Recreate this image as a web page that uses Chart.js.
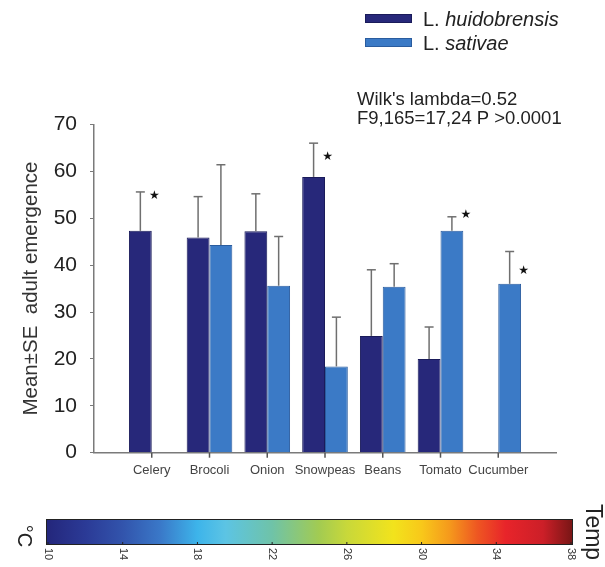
<!DOCTYPE html>
<html>
<head>
<meta charset="utf-8">
<script src="https://cdn.jsdelivr.net/npm/chart.js@4.4.1/dist/chart.umd.min.js"></script>
<style>
  html, body { margin: 0; padding: 0; background: #fff; }
  #wrap { width: 605px; height: 567px; position: relative; }
</style>
</head>
<body>
<div id="wrap"><canvas id="chart" width="605" height="567"></canvas></div>
<script>
// ── Data ──────────────────────────────────────────────────────────────────
const categories       = ['Celery', 'Brocoli', 'Onion', 'Snowpeas', 'Beans', 'Tomato', 'Cucumber'];
const huidobrensisMean = [47.3, 45.9, 47.2, 58.8, 24.9, 20.0, null];
const huidobrensisSE   = [8.3, 8.7, 8.0, 7.2, 14.1, 6.8, null];
const sativaeMean      = [null, 44.3, 35.6, 18.4, 35.4, 47.3, 36.0];
const sativaeSE        = [null, 17.1, 10.5, 10.5, 4.9, 3.0, 6.9];
// level (y value) of the significance stars
const huidobrensisStar = [54.8, null, null, 63.1, null, null, null];
const sativaeStar      = [null, null, null, null, null, 50.7, 38.8];
const yTicks           = [0, 10, 20, 30, 40, 50, 60, 70];
const tempTicks        = [10, 14, 18, 22, 26, 30, 34, 38];
const statLines        = ["Wilk's lambda=0.52", 'F9,165=17,24 P >0.0001'];

const FONT = "'Liberation Sans', Arial, sans-serif";
const DARK  = '#27287a';
const LIGHT = '#3b7ac6';

// blank slot at each end so the axis runs half a slot past the outer groups
const labels = ['', ...categories, ''];
const pad = arr => [null, ...arr, null];

// ── Overlay: error bars, stars, x ticks, legend, stats, colour bar ──────────
function drawLine(ctx, x1, y1, x2, y2) {
  ctx.beginPath(); ctx.moveTo(x1, y1); ctx.lineTo(x2, y2); ctx.stroke();
}

const overlay = {
  id: 'overlay',
  afterDatasetsDraw(chart) {
    const ctx = chart.ctx, ys = chart.scales.y, xs = chart.scales.x;
    const axisY = ys.getPixelForValue(0);
    ctx.save();

    // small tick marks under the x axis, one per category
    ctx.strokeStyle = '#555';
    ctx.lineWidth = 1.5;
    categories.forEach((c, i) => {
      const x = xs.getPixelForValue(i + 1);
      drawLine(ctx, x, axisY, x, axisY + 5);
    });

    chart.data.datasets.forEach((ds, di) => {
      const meta = chart.getDatasetMeta(di);
      meta.data.forEach((bar, i) => {
        const v = ds.data[i];
        if (v == null) return;
        const top = ys.getPixelForValue(v + ds.se[i]);
        ctx.strokeStyle = '#6f6f6f';
        ctx.lineWidth = 1.5;
        drawLine(ctx, bar.x, bar.y, bar.x, top);
        drawLine(ctx, bar.x - 4.5, top, bar.x + 4.5, top);
        if (ds.star[i] != null) {
          ctx.fillStyle = '#111';
          ctx.font = "12px 'DejaVu Sans'";
          ctx.textAlign = 'center';
          ctx.textBaseline = 'middle';
          ctx.fillText('★', bar.x + 14, ys.getPixelForValue(ds.star[i]));
        }
      });
    });
    ctx.restore();
  },
  afterDraw(chart) {
    const ctx = chart.ctx;
    ctx.save();

    // legend
    chart.data.datasets.forEach((ds, i) => {
      const y = 18.5 + i * 24;
      ctx.fillStyle = ds.backgroundColor;
      ctx.fillRect(365, y - 4.5, 47, 9);
      ctx.strokeStyle = ds.borderColor;
      ctx.lineWidth = 1;
      ctx.strokeRect(365.5, y - 4, 46, 8);
      ctx.fillStyle = '#222';
      ctx.textBaseline = 'middle';
      ctx.textAlign = 'left';
      ctx.font = `20px ${FONT}`;
      ctx.fillText('L. ', 423, y + 1.5);
      const w = ctx.measureText('L. ').width;
      ctx.font = `italic 20px ${FONT}`;
      ctx.fillText(ds.species, 423 + w, y + 1.5);
    });

    // stats text
    ctx.font = `18.5px ${FONT}`;
    ctx.fillStyle = '#222';
    statLines.forEach((t, i) => ctx.fillText(t, 357, 100 + i * 19));

    // colour bar
    const cbL = 46, cbR = 573, cbT = 519, cbB = 545;
    const tx = t => 48 + (t - 10) * (571 - 48) / 28;
    const grad = ctx.createLinearGradient(cbL, 0, cbR, 0);
    [[10, '#24277c'], [12, '#2b3a96'], [14, '#3254ac'], [16, '#3a78c8'], [18, '#3db4ea'],
     [19.5, '#5cc4e4'], [22, '#6fc3a8'], [24.5, '#a2cb52'], [26, '#c8d83a'], [28.5, '#f2e31c'],
     [30, '#f8c81a'], [31.5, '#f5991c'], [33, '#ee5622'], [34.5, '#e8242a'], [36.5, '#cc1f28'],
     [38, '#7c1616']].forEach(([t, c]) => {
      grad.addColorStop(Math.min(1, Math.max(0, (tx(t) - cbL) / (cbR - cbL))), c);
    });
    ctx.fillStyle = grad;
    ctx.fillRect(cbL, cbT, cbR - cbL, cbB - cbT);
    ctx.strokeStyle = '#222';
    ctx.lineWidth = 1;
    ctx.strokeRect(cbL + 0.5, cbT + 0.5, cbR - cbL - 1, cbB - cbT - 1);

    ctx.font = `11px ${FONT}`;
    ctx.fillStyle = '#333';
    tempTicks.forEach(t => {
      const x = tx(t);
      ctx.strokeStyle = '#222';
      drawLine(ctx, x, cbB - 3, x, cbB);
      ctx.save();
      ctx.translate(x, 548);
      ctx.rotate(Math.PI / 2);
      ctx.textAlign = 'left';
      ctx.textBaseline = 'middle';
      ctx.fillText(String(t), 0, 0);
      ctx.restore();
    });

    // rotated unit labels
    [['°C', 24, 536, 20], ['Temp', 592, 532, 23]].forEach(([t, x, y, size]) => {
      ctx.save();
      ctx.translate(x, y);
      ctx.rotate(Math.PI / 2);
      ctx.font = `${size}px ${FONT}`;
      ctx.fillStyle = '#222';
      ctx.textAlign = 'center';
      ctx.textBaseline = 'middle';
      ctx.fillText(t, 0, 0);
      ctx.restore();
    });

    ctx.restore();
  }
};

// ── Chart ─────────────────────────────────────────────────────────────────
new Chart(document.getElementById('chart'), {
  type: 'bar',
  data: {
    labels,
    datasets: [
      {
        label: 'L. huidobrensis', species: 'huidobrensis',
        data: pad(huidobrensisMean), se: pad(huidobrensisSE), star: pad(huidobrensisStar),
        backgroundColor: DARK, borderColor: '#1a1b5a', borderWidth: 1,
      },
      {
        label: 'L. sativae', species: 'sativae',
        data: pad(sativaeMean), se: pad(sativaeSE), star: pad(sativaeStar),
        backgroundColor: LIGHT, borderColor: '#2a5c9e', borderWidth: 1,
      },
    ]
  },
  options: {
    responsive: false,
    animation: false,
    events: [],
    datasets: { bar: { categoryPercentage: 0.79, barPercentage: 1.0 } },
    layout: { padding: { top: 124.4, right: 49, bottom: 0, left: 0 } },
    plugins: { legend: { display: false }, tooltip: { enabled: false } },
    scales: {
      x: {
        offset: false,
        afterFit: s => { s.height = 114.3; },
        border: { display: true, color: '#7a7a7a', width: 1.5 },
        grid: { display: false, drawTicks: true, tickLength: 4 },
        ticks: { autoSkip: false, maxRotation: 0, padding: 6, color: '#444', font: { family: FONT, size: 13 } },
      },
      y: {
        min: 0, max: 70,
        afterFit: s => { s.width = 94; },
        afterBuildTicks: s => { s.ticks = yTicks.map(v => ({ value: v })); },
        border: { color: '#7a7a7a', width: 1.5 },
        grid: { drawOnChartArea: false, drawTicks: true, tickLength: 4, color: '#7a7a7a' },
        ticks: { padding: 13, color: '#222', font: { family: FONT, size: 21 } },
        title: {
          display: true, text: 'Mean±SE  adult emergence', color: '#333',
          font: { family: FONT, size: 20.5 }, padding: { top: 19, bottom: 0 },
        },
      }
    }
  },
  plugins: [overlay]
});
</script>
</body>
</html>
